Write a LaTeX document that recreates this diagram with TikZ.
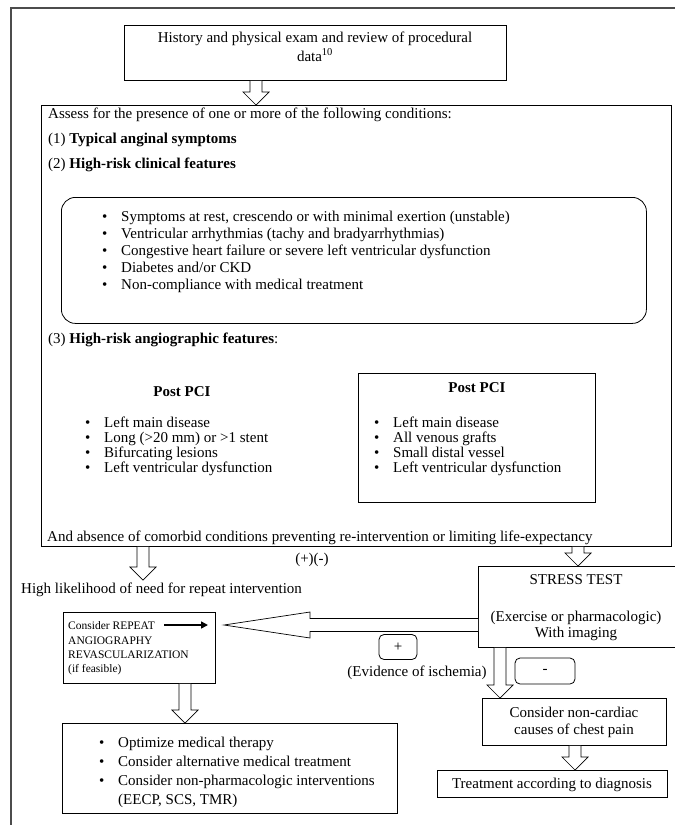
\documentclass[tikz,border=0pt]{standalone}
\usepackage{fontspec}
\setmainfont{Liberation Serif}
\usetikzlibrary{calc,arrows.meta}
\newcommand\blkdown[2]{%
  \draw[harrow] let \p1=(#1), \p2=(#2) in
    (\x1-6pt,\y1) -- (\x1-6pt,\y2+13pt) -- (\x1-13pt,\y2+13pt) -- (\x1,\y2)
    -- (\x1+13pt,\y2+13pt) -- (\x1+6pt,\y2+13pt) -- (\x1+6pt,\y1);}
\newcommand\blkleft[2]{%
  \draw[harrow] let \p1=(#1), \p2=(#2) in
    (\x1,\y1-6.5pt) -- (\x2+86pt,\y1-6.5pt) -- (\x2+86pt,\y1-13pt) -- (\x2,\y1)
    -- (\x2+86pt,\y1+13pt) -- (\x2+86pt,\y1+6.5pt) -- (\x1,\y1+6.5pt);}
\newcommand\bul[1]{\makebox[19pt][l]{\textbullet}#1}
\begin{document}
\begin{tikzpicture}[x=1pt,y=-1pt,
  font=\fontsize{15}{17}\selectfont,
  box/.style={draw, line width=0.8pt, inner sep=0pt},
  lbl/.style={anchor=base west, inner sep=0pt},
  ctr/.style={anchor=base, inner sep=0pt},
  harrow/.style={draw, line width=0.7pt, fill=white},
  small/.style={font=\fontsize{11.5}{14}\selectfont},
  frame/.style={draw=black!70, line width=1.1pt}]
\clip (0,0) rectangle (675,825);
\useasboundingbox (0,0) rectangle (675,825);
% outer frame
\coordinate (f1) at (11,825);
\coordinate (f2) at (11,8);
\coordinate (f3) at (675,8);
\draw[frame] (f1) -- (f2) -- (f3);
% top box
\node[box, minimum width=382, minimum height=55, anchor=north west] (top) at (124,25) {};
\node[ctr] (top1) at (315,42) {History and physical exam and review of procedural};
\node[ctr] (top2) at (315,61) {data\textsuperscript{10}};
% assess box
\node[box, minimum width=630, minimum height=441, anchor=north west] (assess) at (41,105) {};
\blkdown{top.south -| 256,0}{assess.north -| 256,0}
\node[lbl] (t1) at (48,118) {Assess for the presence of one or more of the following conditions:};
\node[lbl] (t2) at (48,143) {(1) \textbf{Typical anginal symptoms}};
\node[lbl] (t3) at (48,168) {(2) \textbf{High-risk clinical features}};
\node[draw, line width=0.8pt, rounded corners=14pt, minimum width=585, minimum height=126, anchor=north west] (clin) at (61,197) {};
\foreach \t [count=\i] in {{Symptoms at rest, crescendo or with minimal exertion (unstable)},
  {Ventricular arrhythmias (tachy and bradyarrhythmias)},
  {Congestive heart failure or severe left ventricular dysfunction},
  {Diabetes and/or CKD},
  {Non-compliance with medical treatment}}
  \node[lbl] (c\i) at (102,204+17*\i) {\bul{\t}};
\node[lbl] (t4) at (48,343) {(3) \textbf{High-risk angiographic features}:};
\node[ctr] (pl) at (182,396) {\textbf{Post PCI}};
\foreach \t [count=\i] in {{Left main disease},{Long (>20 mm) or >1 stent},{Bifurcating lesions},{Left ventricular dysfunction}}
  \node[lbl] (l\i) at (85,412+15*\i) {\bul{\t}};
\node[box, minimum width=237, minimum height=129, anchor=north west] (rbox) at (358,373) {};
\node[ctr] (pr) at (477,392) {\textbf{Post PCI}};
\foreach \t [count=\i] in {{Left main disease},{All venous grafts},{Small distal vessel},{Left ventricular dysfunction}}
  \node[lbl] (r\i) at (374,412+15*\i) {\bul{\t}};
\node[lbl] (t5) at (47,541) {And absence of comorbid conditions preventing re-intervention or limiting life-expectancy};
% lower part
\node[ctr] (pm) at (312,563) {(+)(-)};
\coordinate (a1) at (143,580);
\blkdown{assess.south -| a1}{a1}
\node[lbl] (hl) at (21,593) {High likelihood of need for repeat intervention};
\node[box, minimum width=198, minimum height=81, anchor=north west] (stress) at (478,566) {};
\node[ctr] (s1) at (576,584) {STRESS TEST};
\node[ctr] (s2) at (576,621) {(Exercise or pharmacologic)};
\node[ctr] (s3) at (576,637) {With imaging};
\coordinate (a2) at (578,0);
\blkdown{assess.south -| a2}{stress.north -| a2}
% repeat box
\node[box, minimum width=152, minimum height=71, anchor=north west] (rep) at (63,612) {};
\node[lbl, small] (rp1) at (68,629) {Consider REPEAT};
\node[lbl, small] (rp2) at (68,644) {ANGIOGRAPHY};
\node[lbl, small] (rp3) at (68,658) {REVASCULARIZATION};
\node[lbl, small] (rp4) at (68,672) {(if feasible)};
\coordinate (sa0) at (164,625);
\coordinate (sa) at (208,625);
\draw[line width=1.5pt, -{Triangle[length=7pt,width=7pt]}] (sa0) -- (sa);
\coordinate (tip) at (224,625);
\blkleft{stress.west |- tip}{tip}
\node[draw, line width=0.8pt, rounded corners=5pt, minimum width=38, minimum height=25] (plus) at (398,647) {+};
\node[ctr] (ev) at (417,676) {(Evidence of ischemia)};
\node[draw, line width=0.8pt, rounded corners=5pt, minimum width=60, minimum height=26] (minus) at (545,671) {-};
\node[box, minimum width=184, minimum height=47, anchor=north west] (nc) at (482,698) {};
\node[ctr] (n1) at (574,717) {Consider non-cardiac};
\node[ctr] (n2) at (574,734) {causes of chest pain};
\coordinate (d1) at (500,0);
\blkdown{stress.south -| d1}{nc.north -| d1}
\node[box, minimum width=230, minimum height=27, anchor=north west] (tr) at (437,770) {};
\node[ctr] (trt) at (552,788) {Treatment according to diagnosis};
\coordinate (d2) at (575,0);
\blkdown{nc.south -| d2}{tr.north -| d2}
\node[box, minimum width=335, minimum height=90, anchor=north west] (opt) at (62,723) {};
\coordinate (d3) at (185,0);
\blkdown{rep.south -| d3}{opt.north -| d3}
\node[lbl] (o1) at (99,747) {\bul{Optimize medical therapy}};
\node[lbl] (o2) at (99,766) {\bul{Consider alternative medical treatment}};
\node[lbl] (o3) at (99,785) {\bul{Consider non-pharmacologic interventions}};
\node[lbl] (o4) at (118,804) {(EECP, SCS, TMR)};
\end{tikzpicture}
\end{document}
